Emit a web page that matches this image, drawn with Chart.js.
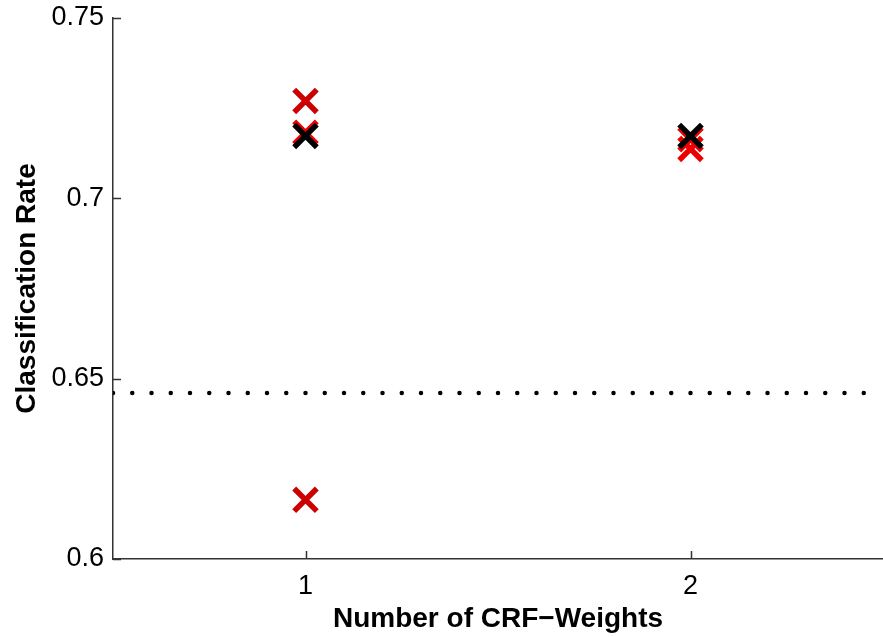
<!DOCTYPE html>
<html>
<head>
<meta charset="utf-8">
<script src="https://cdn.jsdelivr.net/npm/chart.js@4.4.0/dist/chart.umd.min.js"></script>
<style>
  html, body { margin: 0; padding: 0; background: #fff; }
  canvas { display: block; }
</style>
</head>
<body>
<canvas id="chart" width="883" height="637"></canvas>
<script>
// data
const xTicks = [1, 2];
const yTicks = [0.6, 0.65, 0.7, 0.75];

const blackX = [1, 2];
const blackY = [0.7173, 0.7173];

const redX = [1, 2, 2];
const redY = [0.7182, 0.7164, 0.7137];

const darkRedX = [1, 1];
const darkRedY = [0.727, 0.6164];

const baselineRate = 0.646; // dotted horizontal line

const toPoints = (xs, ys) => xs.map((x, i) => ({ x: x, y: ys[i] }));

const tickFont = { family: "Liberation Sans, Arial, sans-serif", size: 27 };
const titleFont = { family: "Liberation Sans, Arial, sans-serif", size: 28, weight: "bold" };

// small ticks drawn inside the plot area, like the original figure
const innerTicks = {
  id: "innerTicks",
  afterDraw(chart) {
    const ctx = chart.ctx;
    const xs = chart.scales.x, ys = chart.scales.y;
    const area = chart.chartArea;
    ctx.save();
    ctx.strokeStyle = "#333";
    ctx.lineWidth = 1.5;
    ctx.beginPath();
    xTicks.forEach(v => {
      const px = Math.round(xs.getPixelForValue(v)) + 0.5;
      ctx.moveTo(px, area.bottom);
      ctx.lineTo(px, area.bottom - 8);
    });
    yTicks.forEach(v => {
      const py = Math.round(ys.getPixelForValue(v)) + 0.5;
      ctx.moveTo(area.left, py);
      ctx.lineTo(area.left + 8, py);
    });
    ctx.stroke();
    ctx.restore();
  }
};

const markerStyle = {
  pointStyle: "crossRot",
  pointRadius: 16,
  pointBorderWidth: 5.5,
  showLine: false
};

new Chart(document.getElementById("chart").getContext("2d"), {
  type: "scatter",
  data: {
    datasets: [
      Object.assign({ data: toPoints(blackX, blackY), borderColor: "#000", backgroundColor: "#000" }, markerStyle),
      Object.assign({ data: toPoints(redX, redY), borderColor: "#ee0000", backgroundColor: "#ee0000" }, markerStyle),
      Object.assign({ data: toPoints(darkRedX, darkRedY), borderColor: "#cc0000", backgroundColor: "#cc0000" }, markerStyle),
      {
        data: [{ x: 0.5, y: baselineRate }, { x: 2.5, y: baselineRate }],
        showLine: true,
        borderColor: "#000",
        borderWidth: 4.5,
        borderDash: [0, 19.25],
        borderCapStyle: "round",
        pointRadius: 0
      }
    ]
  },
  options: {
    responsive: false,
    animation: false,
    events: [],
    layout: { autoPadding: false, padding: { top: 18, right: 0, bottom: 0, left: 0 } },
    plugins: { legend: { display: false }, tooltip: { enabled: false } },
    scales: {
      x: {
        type: "linear",
        min: 0.5,
        max: 2.5,
        afterBuildTicks: axis => { axis.ticks = xTicks.map(v => ({ value: v })); },
        afterFit: axis => { axis.height = 78; axis.paddingLeft = 0; axis.paddingRight = 0; },
        grid: { display: false, drawTicks: false },
        border: { display: true, color: "#333", width: 1.5 },
        ticks: { color: "#000", font: tickFont, padding: 11, maxRotation: 0 },
        title: { display: true, text: "Number of CRF\u2212Weights", color: "#000", font: titleFont, padding: { top: 0, bottom: 1 } }
      },
      y: {
        type: "linear",
        min: 0.6,
        max: 0.75,
        afterBuildTicks: axis => { axis.ticks = yTicks.map(v => ({ value: v })); },
        afterFit: axis => { axis.width = 113; axis.paddingTop = 0; axis.paddingBottom = 0; },
        grid: { display: false, drawTicks: false },
        border: { display: true, color: "#333", width: 1.5 },
        ticks: { color: "#000", font: tickFont, padding: 9, callback: v => String(v) },
        title: { display: true, text: "Classification Rate", color: "#000", font: titleFont, padding: { top: 10, bottom: 0 } }
      }
    }
  },
  plugins: [innerTicks]
});
</script>
</body>
</html>
